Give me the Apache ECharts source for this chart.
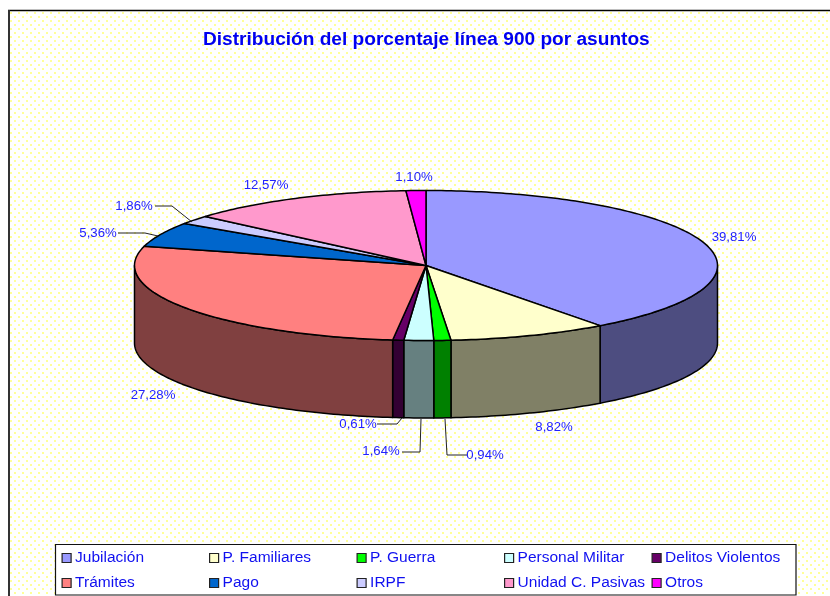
<!DOCTYPE html>
<html>
<head>
<meta charset="utf-8">
<style>html,body{margin:0;padding:0;background:#fff}#c{width:830px;height:596px}</style>
<script src="https://cdn.jsdelivr.net/npm/echarts@6/dist/echarts.min.js"></script>
</head>
<body>
<div id="c"></div>
<script>
const titleText = 'Distribución del porcentaje línea 900 por asuntos';
const categories = ['Jubilación','P. Familiares','P. Guerra','Personal Militar','Delitos Violentos','Trámites','Pago','IRPF','Unidad C. Pasivas','Otros'];
const shares = [39.81,8.82,0.94,1.64,0.61,27.28,5.36,1.86,12.57,1.10];
const colors = ['#9999FF','#FFFFCC','#00FF00','#CCFFFF','#660066','#FF8080','#0066CC','#CCCCFF','#FF99CC','#FF00FF'];

// layout only
const CX = 426, CY = 265.5, RX = 291.5, RY = 75, DEPTH = 77.5;
const labelCenters = [[734,237],[554,427],[485,455],[381,451],[358,424],[153,395],[98,233],[134,206],[266,185],[414,177]];
const leaders = {
  2: [[467,455],[447,455],[445,419]],
  3: [[402,452],[420,452],[421,419]],
  4: [[377,424],[397,424],[402,418]],
  6: [[118,233],[145,233],[158,236]],
  7: [[155,206],[172,206],[192,222]]
};
const legendCols = [61.5,209,356.5,504,651.5];
const legendRows = [550,575];

const total = shares.reduce((a,b)=>a+b,0);
const starts = [];
shares.reduce((acc,v,i)=>{starts[i]=acc;return acc+v;},0);

function pt(deg, dy){
  const t = deg*Math.PI/180;
  return [CX+RX*Math.sin(t), CY-RY*Math.cos(t)+(dy||0)];
}
function arc(a,b,dy){
  const n = Math.max(2,Math.ceil(Math.abs(b-a)));
  const out = [];
  for(let i=0;i<=n;i++) out.push(pt(a+(b-a)*i/n,dy));
  return out;
}
function darker(hex){
  const n = parseInt(hex.slice(1),16);
  const f = v=>Math.round(v/2);
  return 'rgb('+f(n>>16&255)+','+f(n>>8&255)+','+f(n&255)+')';
}
function makeItem(i){
  return function(params, api){
    const a = starts[i]/total*360, b = (starts[i]+shares[i])/total*360;
    const children = [];
    const wa = Math.max(a,90), wb = Math.min(b,270);
    const edge = {stroke:'#000',lineWidth:1.5,lineJoin:'round'};
    if(wb>wa){
      const top = arc(wa,wb,0), bot = arc(wb,wa,DEPTH);
      children.push({type:'polygon',shape:{points:top.concat(bot)},style:Object.assign({fill:darker(colors[i])},edge)});
    }
    children.push({type:'polygon',shape:{points:[[CX,CY]].concat(arc(a,b,0))},style:Object.assign({fill:colors[i]},edge)});
    if(leaders[i]){
      children.push({type:'polyline',shape:{points:leaders[i]},style:{stroke:'#222',lineWidth:1,fill:null}});
    }
    children.push({type:'text',style:{
      text:shares[i].toFixed(2).replace('.',',')+'%',
      x:labelCenters[i][0],y:labelCenters[i][1]+0.5,
      align:'center',verticalAlign:'middle',
      font:'13.2px "Liberation Sans"',fill:'#2222FF'
    }});
    return {type:'group',children};
  };
}

const tile = document.createElement('canvas');
tile.width = 8; tile.height = 8;
const g = tile.getContext('2d');
g.fillStyle = '#FFFFFF'; g.fillRect(0,0,8,8);
g.fillStyle = '#FFFF99';
g.fillRect(2,4,2,2); g.fillRect(6,0,2,2);

const chart = echarts.init(document.getElementById('c'),null,{renderer:'canvas',width:830,height:596});
chart.setOption({
  animation:false,
  backgroundColor:'#fff',
  title:{text:titleText,left:203,top:30,padding:0,textStyle:{fontFamily:'"Liberation Sans"',fontWeight:'bold',fontSize:19.1,color:'#0000F0'}},
  legend: categories.map((name,i)=>({
    data:[name],
    left:legendCols[i%5],top:legendRows[Math.floor(i/5)],
    padding:0,itemWidth:9,itemHeight:9,itemGap:0,selectedMode:false,
    icon:'rect',
    itemStyle:{borderColor:'#222',borderWidth:1.2},
    textStyle:{fontFamily:'"Liberation Sans"',fontSize:15.5,color:'#1010F0',padding:[0,0,0,-1]}
  })),
  graphic:[
    {type:'rect',z:-10,silent:true,shape:{x:9,y:11,width:830,height:600},style:{fill:{image:tile,repeat:'repeat'}}},
    {type:'line',z:-8,silent:true,shape:{x1:8,y1:10.5,x2:830,y2:10.5},style:{stroke:'#000',lineWidth:1.6}},
    {type:'line',z:-8,silent:true,shape:{x1:9,y1:10,x2:9,y2:596},style:{stroke:'#333',lineWidth:2}},
    {type:'rect',z:-7,silent:true,shape:{x:55.5,y:544.5,width:740.5,height:50.5},style:{fill:'#fff',stroke:'#111',lineWidth:1.2}}
  ],
  series: categories.map((name,i)=>({
    type:'custom',name,coordinateSystem:'none',silent:true,
    itemStyle:{color:colors[i]},
    data:[[shares[i]]],
    renderItem:makeItem(i)
  }))
});
</script>
</body>
</html>
